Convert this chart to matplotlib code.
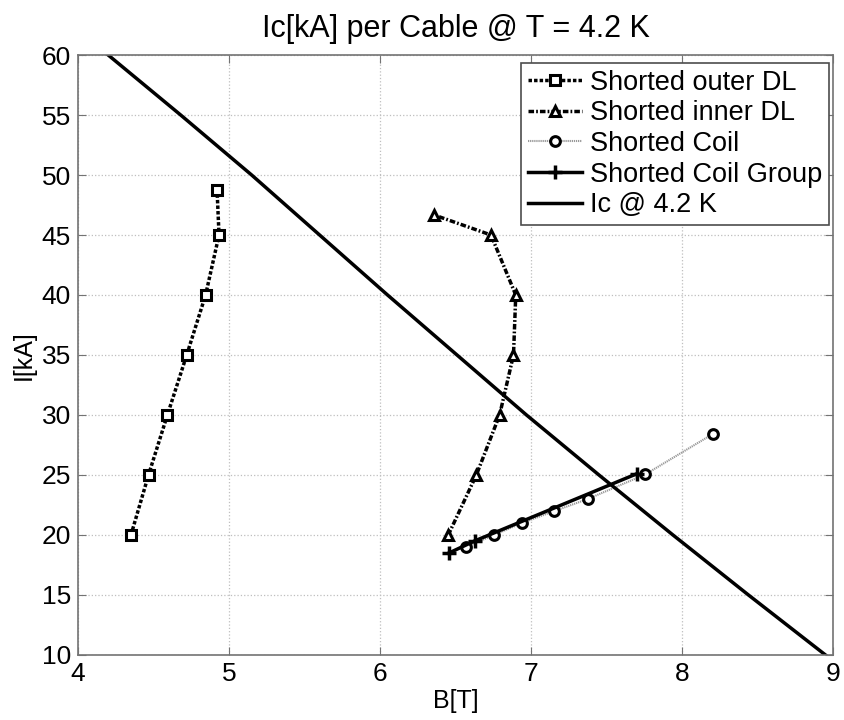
'''
Ic per kabel vid T = 4.2 K med kortslutna spolar / lager.
'''

import numpy as np
import matplotlib
matplotlib.use('Agg')
import matplotlib.pyplot as plt

plt.rcParams['font.family'] = ['Liberation Sans', 'DejaVu Sans']

# Shorted outer DL
outer_b = [4.351, 4.467, 4.592, 4.720, 4.845, 4.934, 4.921]
outer_i = [20, 25, 30, 35, 40, 45, 48.75]

# Shorted inner DL
inner_b = [6.452, 6.638, 6.792, 6.884, 6.899, 6.735, 6.358]
inner_i = [20, 25, 30, 35, 40, 45, 46.67]

# Shorted Coil
coil_b = [6.567, 6.755, 6.940, 7.155, 7.376, 7.757, 8.208]
coil_i = [19.0, 20.0, 21.0, 22.0, 23.0, 25.05, 28.45]

# Shorted Coil Group
group_b = [6.457, 6.626, 7.700]
group_i = [18.5, 19.5, 25.1]

# Ic @ 4.2 K
ic_b = [4.20, 4.68, 5.15, 5.60, 6.05, 6.51, 6.97, 7.45, 7.94, 8.44, 8.95]
ic_i = [60, 55, 50, 45, 40, 35, 30, 25, 20, 15, 10]


def main():
    fig = plt.figure(figsize=(8.44, 7.2), dpi=100)
    ax = fig.add_axes([0.0924, 0.0903, 0.8946, 0.8333])

    mk = dict(markerfacecolor='white', markeredgecolor='k',
              markeredgewidth=2.2, markersize=7)
    ax.plot(outer_b, outer_i, marker='s', lw=2.5, color='k',
            dashes=(1.0, 0.6), label='Shorted outer DL', **mk)
    ax.plot(inner_b, inner_i, marker='^', lw=2.5, color='k',
            dashes=(1.6, 0.6, 0.5, 0.6), label='Shorted inner DL', **mk)
    ax.plot(coil_b, coil_i, marker='o', lw=1.5, color='0.6',
            dashes=(0.6, 0.4), label='Shorted Coil', **mk)
    ax.plot(group_b, group_i, '-', marker='+', lw=2.5, color='k',
            markersize=10, markeredgewidth=2.5, label='Shorted Coil Group')
    ax.plot(ic_b, ic_i, '-', lw=2.5, color='k', solid_joinstyle='round',
            label='Ic @ 4.2 K')

    ax.set_xlim(4, 9)
    ax.set_ylim(10, 60)
    ax.set_xticks(np.arange(4, 10, 1))
    ax.set_yticks(np.arange(10, 65, 5))
    ax.grid(True, ls=':', color='0.75', lw=0.9)
    ax.tick_params(direction='in', labelsize=19, color='0.45', length=6,
                   top=True, right=True, pad=5)
    for s in ax.spines.values():
        s.set_color('0.45')
        s.set_linewidth(1.2)

    ax.set_xlabel('B[T]', fontsize=18, labelpad=2)
    ax.set_ylabel('I[kA]', fontsize=18, labelpad=4)
    ax.set_title('Ic[kA] per Cable @ T = 4.2 K', fontsize=22, pad=13)

    leg = ax.legend(loc='upper right', fontsize=19.5, fancybox=False,
                    framealpha=1, borderpad=0.25, labelspacing=0.17,
                    handlelength=2.0, handletextpad=0.3, borderaxespad=0,
                    bbox_to_anchor=(0.9947, 0.9867))
    leg.get_frame().set_edgecolor('0.3')
    leg.get_frame().set_linewidth(1.2)

    fig.savefig('out.png', dpi=100)


if __name__ == '__main__':
    main()
